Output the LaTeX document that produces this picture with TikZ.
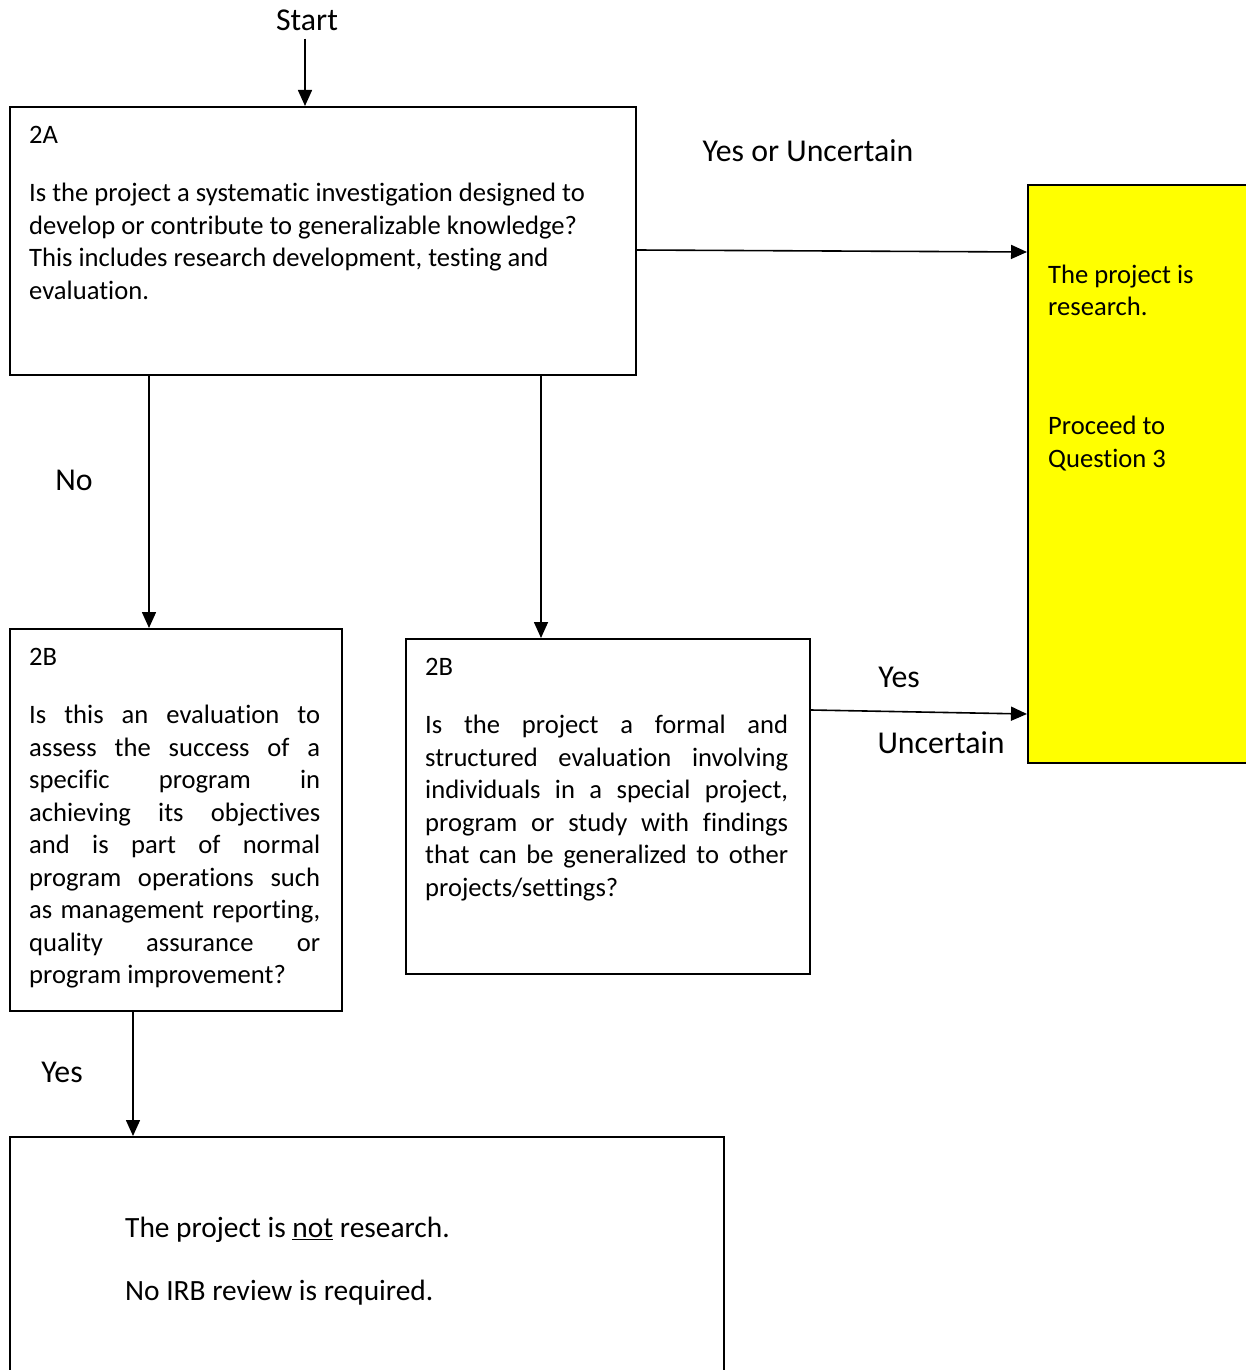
\documentclass[tikz,border=0pt]{standalone}
\usepackage{fontspec}
\setmainfont{Carlito}[Ligatures={NoCommon}]
\usetikzlibrary{arrows.meta,calc}
\definecolor{ylw}{RGB}{255,255,0}
\hbadness=10000
\hfuzz=50pt
\tolerance=10000
\hyphenpenalty=10000
\begin{document}
\begin{tikzpicture}[x=1pt,y=-1pt,
  box/.style={draw,line width=2pt,inner sep=0pt,anchor=north west},
  txt/.style={inner sep=0pt,anchor=base west},
  lbl/.style={inner sep=0pt,font=\fontsize{31.8}{38}\selectfont},
  arr/.style={line width=1.6pt,-{Triangle[width=14pt,length=16pt]}}]
\useasboundingbox (0,0) rectangle (1246,1370);
\clip (0,0) rectangle (1246,1370);
\fill[white] (0,0) rectangle (1246,1370);

% boxes
\node[box,minimum width=626pt,minimum height=268pt] (q2a) at (9,106) {};
\node[box,fill=ylw,minimum width=260pt,minimum height=578pt] (res) at (1027,184) {};
\node[box,minimum width=332pt,minimum height=382pt] (lb) at (9,628) {};
\node[box,minimum width=404pt,minimum height=335pt] (mb) at (405,638) {};
\node[box,minimum width=714pt,minimum height=300pt] (nr) at (9,1136) {};

% texts
\node[txt] (t2a) at (29,143) {\parbox[t]{600pt}{\raggedright\fontsize{26.6}{32.5}\selectfont
2A\\[26pt]
Is the project a systematic investigation designed to\\
develop or contribute to generalizable knowledge?\\
This includes research development, testing and\\
evaluation.}};

\node[txt] (tres) at (1048,283) {\parbox[t]{190pt}{\raggedright\fontsize{26.6}{32.5}\selectfont
The project is\\
research.\\[86.5pt]
Proceed to\\
Question 3}};

\node[txt] (tlb) at (29,665) {\parbox[t]{291pt}{\fontsize{26.6}{32.5}\selectfont
2B\\[26pt]
Is this an evaluation to\linebreak
assess the success of a\linebreak
specific program in\linebreak
achieving its objectives\linebreak
and is part of normal\linebreak
program operations such\linebreak
as management reporting,\linebreak
quality assurance or\linebreak
program improvement?}};

\node[txt] (tmb) at (425,675) {\parbox[t]{363pt}{\fontsize{26.6}{32.5}\selectfont
2B\\[26pt]
Is the project a formal and\linebreak
structured evaluation involving\linebreak
individuals in a special project,\linebreak
program or study with findings\linebreak
that can be generalized to other\linebreak
projects/settings?}};

\node[txt] (tnr) at (125,1237.5) {\parbox[t]{560pt}{\raggedright\fontsize{29.4}{36}\selectfont
The project is \underline{not} research.\\[27pt]
No IRB review is required.}};

% labels
\node[lbl] (start) at (307,20) {Start};
\node[lbl] (l1) at (808,151) {Yes or Uncertain};
\node[lbl] (l2) at (74,480) {No};
\node[lbl] (l3) at (899,677) {Yes};
\node[lbl] (l4) at (941,743) {Uncertain};
\node[lbl] (l5) at (62,1072) {Yes};

% connectors
\draw[arr] ($(start.south)+(-2,8)$) -- ($(q2a.north west)+(296,0)$);
\draw[arr] ($(q2a.north east)+(0,144)$) -- ($(res.north west)+(0,68)$);
\draw[arr] ($(q2a.south west)+(140,0)$) -- ($(lb.north west)+(140,0)$);
\draw[arr] ($(q2a.south west)+(532,0)$) -- ($(mb.north west)+(136,0)$);
\draw[arr] ($(mb.north east)+(0,72)$) -- ($(res.north west)+(0,530)$);
\draw[arr] ($(lb.south west)+(124,0)$) -- ($(nr.north west)+(124,0)$);
\end{tikzpicture}
\end{document}
